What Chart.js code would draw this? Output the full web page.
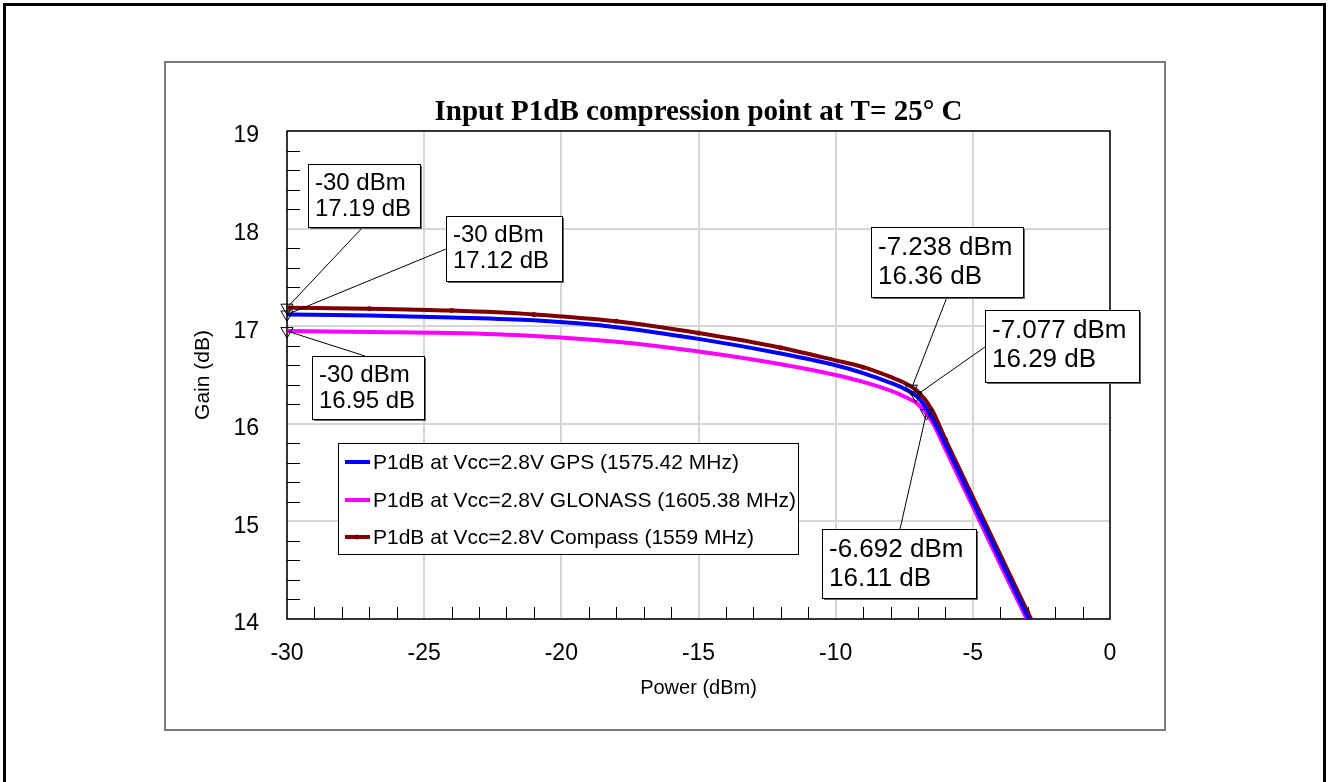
<!DOCTYPE html>
<html>
<head>
<meta charset="utf-8">
<title>Input P1dB compression point</title>
<script src="https://cdn.jsdelivr.net/npm/chart.js@4.4.1/dist/chart.umd.min.js"></script>
<style>
  html, body { margin: 0; padding: 0; background: #fff; }
  #wrap { position: relative; width: 1330px; height: 782px; overflow: hidden; }
  canvas { display: block; }
</style>
</head>
<body>
<div id="wrap"><canvas id="p1dbChart" width="1330" height="782"></canvas></div>
<script>
// values
const power = [-30, -27, -24, -21, -18, -15, -12, -10, -9, -8, -7.5, -7, -6.5, -6, -5, -4, -3, -2.5];
const gainGps = [17.12, 17.11, 17.09, 17.06, 16.99, 16.87, 16.72, 16.60, 16.52, 16.42, 16.36, 16.27, 16.07, 15.79, 15.20, 14.61, 14.02, 13.73];
const gainGlonass = [16.95, 16.94, 16.93, 16.90, 16.84, 16.74, 16.61, 16.50, 16.43, 16.34, 16.28, 16.20, 16.03, 15.74, 15.15, 14.56, 13.98, 13.69];
const gainCompass = [17.19, 17.18, 17.16, 17.12, 17.05, 16.93, 16.78, 16.65, 16.58, 16.48, 16.42, 16.33, 16.15, 15.84, 15.25, 14.66, 14.07, 13.78];

const seriesLabels = [
    'P1dB at Vcc=2.8V GPS (1575.42 MHz)',
    'P1dB at Vcc=2.8V GLONASS (1605.38 MHz)',
    'P1dB at Vcc=2.8V Compass (1559 MHz)'
];
const seriesColors = ['#0000ff', '#ff00ff', '#800000'];

// marker readouts: compass, gps, glonass at -30 dBm, then the three P1dB points
const markerPower = [-30, -30, -30, -7.238, -7.077, -6.692];
const markerGain = [17.19, 17.12, 16.95, 16.36, 16.29, 16.11];

const chartTitle = 'Input P1dB compression point at T= 25° C';
const xTitle = 'Power (dBm)';
const yTitle = 'Gain (dB)';

// where the readout boxes sit (pixels) and where their leader leaves the box
const labelBoxes = [
    { x: 308, y: 164, w: 112, h: 63, fs: 24, ax: 363, ay: 227 },
    { x: 446, y: 216, w: 116, h: 65, fs: 24, ax: 446, ay: 249 },
    { x: 312, y: 356, w: 112, h: 63, fs: 24, ax: 365, ay: 356 },
    { x: 871, y: 227, w: 152, h: 70, fs: 26, ax: 947, ay: 297 },
    { x: 985, y: 310, w: 154, h: 72, fs: 26, ax: 985, ay: 347 },
    { x: 822, y: 529, w: 154, h: 69, fs: 26, ax: 900, ay: 529 }
];

const sans = '"Liberation Sans", Arial, sans-serif';

function pts(gains) {
    return power.map((p, i) => ({ x: p, y: gains[i] }));
}

const framePlugin = {
    id: 'frame',
    beforeDraw(chart) {
        const ctx = chart.ctx;
        ctx.save();
        ctx.fillStyle = '#fff';
        ctx.fillRect(0, 0, chart.width, chart.height);
        // outer page frame
        ctx.strokeStyle = '#000';
        ctx.lineWidth = 3;
        ctx.strokeRect(4.5, 4.5, 1320, 820);
        // inner panel
        ctx.strokeStyle = '#7a7a7a';
        ctx.lineWidth = 2;
        ctx.strokeRect(165, 62, 1000, 668);
        // title
        ctx.fillStyle = '#000';
        ctx.font = 'bold 29px "Liberation Serif", "Times New Roman", serif';
        ctx.textAlign = 'center';
        ctx.textBaseline = 'alphabetic';
        const a = chart.chartArea;
        ctx.fillText(chartTitle, (a.left + a.right) / 2, 120);
        ctx.restore();
    },
    beforeDatasetsDraw(chart) {
        const { ctx, chartArea: a, scales: { x, y } } = chart;
        ctx.save();
        ctx.strokeStyle = '#000';
        ctx.lineWidth = 1;
        ctx.beginPath();
        for (let i = 1; i < 25; i++) {
            if (i % 5 === 0) continue;
            const py = Math.round(y.getPixelForValue(14 + i * 0.2)) + 0.5;
            ctx.moveTo(a.left, py);
            ctx.lineTo(a.left + 13, py);
        }
        for (let v = -29; v < 0; v++) {
            if (v % 5 === 0) continue;
            const px = Math.round(x.getPixelForValue(v)) + 0.5;
            ctx.moveTo(px, a.bottom);
            ctx.lineTo(px, a.bottom - 12);
        }
        ctx.stroke();
        ctx.lineWidth = 1.5;
        ctx.strokeRect(a.left, a.top, a.right - a.left, a.bottom - a.top);
        ctx.restore();
    },
    afterDatasetsDraw(chart) {
        const { ctx, scales: { x, y } } = chart;
        ctx.save();
        // leader lines
        ctx.strokeStyle = '#000';
        ctx.lineWidth = 1;
        labelBoxes.forEach((b, i) => {
            ctx.beginPath();
            ctx.moveTo(b.ax, b.ay);
            ctx.lineTo(x.getPixelForValue(markerPower[i]), y.getPixelForValue(markerGain[i]));
            ctx.stroke();
        });
        // readout boxes
        labelBoxes.forEach((b, i) => {
            ctx.fillStyle = '#666';
            ctx.fillRect(b.x + 2, b.y + 2, b.w, b.h);
            ctx.fillStyle = '#fff';
            ctx.fillRect(b.x, b.y, b.w, b.h);
            ctx.strokeStyle = '#000';
            ctx.strokeRect(b.x + 0.5, b.y + 0.5, b.w, b.h);
            ctx.fillStyle = '#000';
            ctx.font = b.fs + 'px ' + sans;
            ctx.textAlign = 'left';
            ctx.textBaseline = 'middle';
            ctx.fillText(markerPower[i] + ' dBm', b.x + 7, b.y + b.fs * 0.8);
            ctx.fillText(markerGain[i].toFixed(2) + ' dB', b.x + 7, b.y + b.fs * 1.9);
        });
        // legend
        const lx = 338, ly = 443, lw = 460, lh = 111;
        ctx.fillStyle = '#fff';
        ctx.fillRect(lx, ly, lw, lh);
        ctx.strokeStyle = '#000';
        ctx.lineWidth = 1;
        ctx.strokeRect(lx + 0.5, ly + 0.5, lw, lh);
        ctx.font = '21px ' + sans;
        ctx.textBaseline = 'middle';
        const rows = [462, 500, 537];
        seriesLabels.forEach((lab, i) => {
            ctx.strokeStyle = seriesColors[i];
            ctx.lineWidth = 4;
            ctx.beginPath();
            ctx.moveTo(345, rows[i]);
            ctx.lineTo(370, rows[i]);
            ctx.stroke();
            if (i === 2) {
                ctx.fillStyle = seriesColors[i];
                ctx.beginPath();
                ctx.arc(357, rows[i], 2.5, 0, Math.PI * 2);
                ctx.fill();
            }
            ctx.fillStyle = '#000';
            ctx.fillText(lab, 373, rows[i] + 1);
        });
        ctx.restore();
    }
};

const ctx = document.getElementById('p1dbChart').getContext('2d');
const chart = new Chart(ctx, {
    type: 'line',
    data: {
        datasets: [
            {
                label: 'markers',
                data: markerPower.map((p, i) => ({ x: p, y: markerGain[i] })),
                showLine: false,
                clip: false,
                pointStyle: 'triangle',
                rotation: 180,
                pointRadius: 7,
                borderColor: '#000',
                backgroundColor: 'rgba(0,0,0,0)',
                borderWidth: 1
            },
            {
                label: seriesLabels[0],
                data: pts(gainGps),
                borderColor: seriesColors[0],
                borderWidth: 4,
                pointRadius: 0,
                cubicInterpolationMode: 'monotone'
            },
            {
                label: seriesLabels[1],
                data: pts(gainGlonass),
                borderColor: seriesColors[1],
                borderWidth: 4,
                pointRadius: 0,
                cubicInterpolationMode: 'monotone'
            },
            {
                label: seriesLabels[2],
                data: pts(gainCompass),
                borderColor: seriesColors[2],
                backgroundColor: seriesColors[2],
                borderWidth: 4,
                pointRadius: power.map(p => (p % 3 === 0 && p > -30) ? 2.5 : 0),
                pointBorderWidth: 0,
                cubicInterpolationMode: 'monotone'
            }
        ]
    },
    options: {
        responsive: false,
        animation: false,
        events: [],
        layout: { padding: { left: 165, right: 220, top: 131, bottom: 82 } },
        plugins: {
            legend: { display: false },
            tooltip: { enabled: false },
            title: { display: false }
        },
        scales: {
            x: {
                type: 'linear',
                min: -30,
                max: 0,
                ticks: { stepSize: 5, padding: 21, color: '#000', font: { family: sans, size: 23 } },
                grid: { color: '#d6d6d6', lineWidth: 2, drawTicks: false },
                border: { display: false },
                title: { display: true, text: xTitle, color: '#000', font: { family: sans, size: 20 }, padding: { top: 0, bottom: 0 } },
                afterFit(scale) { scale.height = 81; }
            },
            y: {
                min: 14,
                max: 19,
                ticks: { stepSize: 1, padding: 28, labelOffset: 5, color: '#000', font: { family: sans, size: 23 } },
                grid: { color: '#d6d6d6', lineWidth: 2, drawTicks: false },
                border: { display: false },
                title: { display: true, text: yTitle, color: '#000', font: { family: sans, size: 21 }, padding: { top: 26, bottom: 0 } },
                afterFit(scale) { scale.width = 122; }
            }
        }
    },
    plugins: [framePlugin]
});
</script>
</body>
</html>
